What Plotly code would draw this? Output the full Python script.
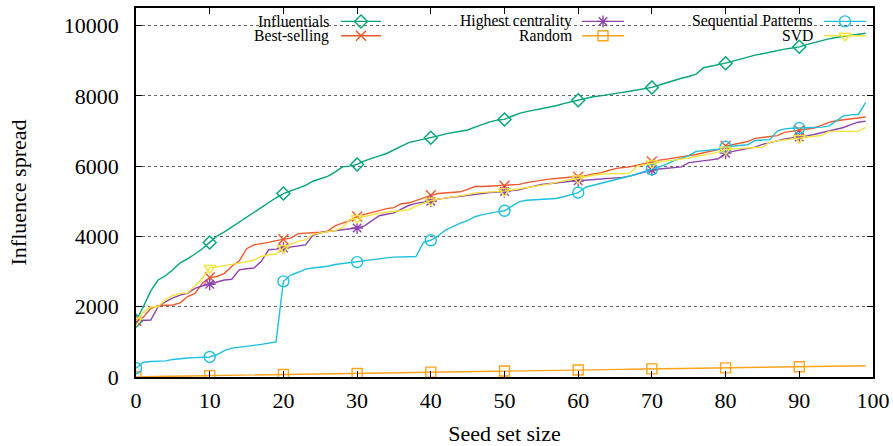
import plotly.graph_objects as go

seeds = list(range(100))

influentials = [1600, 2000, 2450, 2760, 2880, 3050, 3250, 3360, 3500, 3650,
                3830, 4010, 4130, 4270, 4420, 4560, 4680, 4830, 4980, 5100,
                5220, 5300, 5380, 5450, 5570, 5650, 5710, 5830, 5980, 6000,
                6050, 6150, 6230, 6290, 6360, 6460, 6570, 6670, 6720, 6760,
                6810, 6860, 6920, 6960, 7000, 7030, 7110, 7190, 7260, 7310,
                7330, 7420, 7500, 7550, 7590, 7620, 7670, 7720, 7780, 7830,
                7875, 7930, 7975, 8000, 8040, 8070, 8100, 8130, 8160, 8200,
                8240, 8310, 8380, 8440, 8500, 8550, 8620, 8800, 8840, 8890,
                8930, 8990, 9050, 9110, 9160, 9200, 9250, 9290, 9330, 9360,
                9395, 9460, 9520, 9580, 9620, 9660, 9690, 9720, 9750, 9780]

best_selling = [1600, 1700, 1950, 2030, 2040, 2050, 2110, 2290, 2380, 2670,
                2830, 2860, 2950, 3150, 3300, 3650, 3760, 3790, 3830, 3880,
                3920, 3950, 4080, 4090, 4100, 4120, 4150, 4300, 4380, 4450,
                4570, 4630, 4690, 4740, 4790, 4820, 4930, 4950, 5030, 5110,
                5170, 5220, 5240, 5260, 5270, 5340, 5420, 5420, 5430, 5430,
                5440, 5460, 5480, 5530, 5570, 5600, 5630, 5650, 5670, 5690,
                5700, 5730, 5780, 5810, 5870, 5930, 5960, 5980, 6030, 6080,
                6130, 6170, 6200, 6230, 6250, 6280, 6330, 6380, 6430, 6470,
                6570, 6620, 6660, 6700, 6790, 6820, 6850, 6870, 6960, 6990,
                7020, 7050, 7085, 7160, 7245, 7290, 7320, 7340, 7360, 7400]

highest_centrality = [1600, 1600, 1620, 2000, 2140, 2250, 2330, 2380, 2520, 2590,
                      2640, 2710, 2760, 2780, 3050, 3080, 3100, 3290, 3620, 3640,
                      3670, 3700, 3740, 3760, 4030, 4100, 4140, 4170, 4200, 4220,
                      4240, 4300, 4450, 4590, 4630, 4670, 4780, 4880, 4940, 4970,
                      5000, 5060, 5095, 5120, 5140, 5170, 5200, 5230, 5250, 5260,
                      5280, 5310, 5330, 5380, 5430, 5480, 5500, 5530, 5550, 5570,
                      5585, 5600, 5610, 5620, 5640, 5650, 5680, 5715, 5770, 5830,
                      5890, 5920, 5935, 5950, 5980, 6100, 6120, 6150, 6180, 6210,
                      6370, 6420, 6460, 6500, 6540, 6620, 6680, 6720, 6775, 6800,
                      6830, 6860, 6900, 6950, 7000, 7060, 7100, 7180, 7250, 7280]

random_sel = [0, 10, 15, 18, 20, 23, 26, 29, 32, 36,
              40, 43, 46, 49, 52, 55, 58, 61, 64, 67,
              70, 73, 76, 79, 82, 85, 88, 91, 94, 97,
              100, 104, 108, 112, 116, 120, 124, 128, 132, 136,
              140, 143, 146, 149, 152, 155, 158, 161, 164, 167,
              170, 173, 176, 179, 182, 185, 188, 191, 194, 197,
              200, 203, 206, 209, 212, 215, 218, 221, 224, 227,
              230, 233, 236, 239, 242, 245, 248, 251, 254, 257,
              260, 263, 266, 269, 272, 275, 278, 281, 284, 287,
              290, 293, 296, 299, 302, 305, 309, 313, 317, 322]

sequential_patterns = [250, 420, 440, 450, 460, 500, 525, 540, 550, 560,
                       570, 640, 750, 820, 840, 860, 900, 930, 960, 1000,
                       2720, 2900, 2980, 3070, 3100, 3120, 3150, 3200, 3230, 3250,
                       3270, 3300, 3340, 3370, 3390, 3410, 3420, 3430, 3430, 3830,
                       3890, 4020, 4180, 4280, 4380, 4450, 4560, 4620, 4670, 4700,
                       4730, 4850, 4990, 5030, 5040, 5050, 5060, 5080, 5130, 5180,
                       5245, 5400, 5450, 5510, 5560, 5600, 5660, 5720, 5780, 5840,
                       5905, 5980, 6060, 6160, 6220, 6300, 6420, 6440, 6460, 6480,
                       6550, 6570, 6590, 6610, 6730, 6745, 6755, 7000, 7060, 7080,
                       7085, 7085, 7085, 7110, 7140, 7290, 7430, 7460, 7470, 7810]

svd = [1600, 1850, 2000, 2000, 2200, 2320, 2380, 2390, 2600, 2800,
       3100, 3130, 3160, 3200, 3240, 3280, 3330, 3430, 3480, 3500,
       3670, 3780, 3860, 3900, 4060, 4100, 4140, 4170, 4250, 4480,
       4520, 4570, 4620, 4660, 4690, 4720, 4740, 4760, 4860, 4950,
       5020, 5060, 5090, 5110, 5140, 5190, 5240, 5250, 5260, 5270,
       5290, 5320, 5350, 5390, 5430, 5460, 5490, 5540, 5590, 5620,
       5650, 5700, 5740, 5770, 5790, 5790, 5790, 5800, 6000, 6040,
       6080, 6120, 6150, 6170, 6190, 6230, 6280, 6310, 6350, 6400,
       6470, 6490, 6510, 6520, 6530, 6540, 6680, 6720, 6750, 6780,
       6800, 6820, 6850, 6870, 6990, 6990, 6990, 6990, 6990, 7100]

x_ticks = [0, 10, 20, 30, 40, 50, 60, 70, 80, 90, 100]
y_ticks = [0, 2000, 4000, 6000, 8000, 10000]
y_tick_labels = ["0", "2000", "4000", "6000", "8000", "10000"]

FONT = "'Liberation Serif', 'Times New Roman', 'DejaVu Serif', serif"

series = [
    ("Influentials", influentials, "#00A676", "diamond-open", 10),
    ("Best-selling", best_selling, "#F2592C", "x-thin-open", 10),
    ("Highest centrality", highest_centrality, "#8E44AD", "asterisk-open", 10),
    ("Random", random_sel, "#FFA31A", "square-open", 10),
    ("Sequential Patterns", sequential_patterns, "#1EC0E0", "circle-open", 11),
    ("SVD", svd, "#F4E33E", "triangle-down-open", 10),
]

fig = go.Figure()
for name, vals, color, sym, msz in series:
    fig.add_trace(go.Scatter(x=seeds, y=vals, mode="lines",
                             line=dict(color=color, width=1.4),
                             showlegend=False, hoverinfo="skip"))
    fig.add_trace(go.Scatter(x=seeds[::10], y=vals[::10], mode="markers",
                             marker=dict(symbol=sym, size=msz, color=color,
                                         line=dict(color=color, width=1.4)),
                             showlegend=False, hoverinfo="skip"))

# gnuplot-style key: text right-aligned, then the line sample (pixel coords)
key_cols = [(330, 341, 381), (573, 582, 624), (814, 824, 866)]
key_rows = [21.7, 36.0]
layout_order = [(0, 0), (1, 0), (0, 1), (1, 1), (0, 2), (1, 2)]
annotations = []
for (name, vals, color, sym, msz), (r, c) in zip(series, layout_order):
    tx, l0, l1 = key_cols[c]
    yy = key_rows[r]
    fig.add_trace(go.Scatter(x=[l0, l1], y=[yy, yy], mode="lines",
                             line=dict(color=color, width=1.4),
                             xaxis="x2", yaxis="y2",
                             showlegend=False, hoverinfo="skip"))
    fig.add_trace(go.Scatter(x=[(l0 + l1) / 2], y=[yy], mode="markers",
                             marker=dict(symbol=sym, size=msz, color=color,
                                         line=dict(color=color, width=1.4)),
                             xaxis="x2", yaxis="y2",
                             showlegend=False, hoverinfo="skip"))
    annotations.append(dict(text=name, x=tx, y=yy, xref="x2", yref="y2",
                            xanchor="right", yanchor="middle", showarrow=False,
                            borderpad=0,
                            font=dict(family=FONT, size=15.7, color="black")))

fig.update_layout(
    width=893, height=446,
    margin=dict(l=136, r=20, t=8, b=69),
    paper_bgcolor="white", plot_bgcolor="white",
    font=dict(family=FONT, size=22, color="black"),
    annotations=annotations,
    xaxis=dict(range=[0, 100], tickvals=x_ticks, ticks="inside", ticklen=6,
               tickcolor="black", tickwidth=1, showline=True, linecolor="black",
               linewidth=1.5, mirror="ticks", showgrid=False, zeroline=False,
               automargin=False,
               ticklabelstandoff=3, tickfont=dict(family=FONT, size=22),
               title=dict(text="Seed set size", standoff=17,
                          font=dict(family=FONT, size=22))),
    yaxis=dict(range=[0, 10500], tickvals=y_ticks, ticktext=y_tick_labels,
               ticks="inside", ticklen=6, automargin=False,
               tickcolor="black", tickwidth=1, showline=True, linecolor="black",
               linewidth=1.5, mirror="ticks", showgrid=True, gridcolor="#666666",
               griddash="dot", gridwidth=1, zeroline=False,
               ticklabelstandoff=11, tickfont=dict(family=FONT, size=22),
               title=dict(text="Influence spread", standoff=31,
                          font=dict(family=FONT, size=22))),
    xaxis2=dict(range=[136, 873], overlaying="x", anchor="y2", visible=False,
                fixedrange=True),
    yaxis2=dict(range=[376.7, 8.3], overlaying="y", anchor="x2", visible=False,
                fixedrange=True),
)

fig.write_html("out.html")
